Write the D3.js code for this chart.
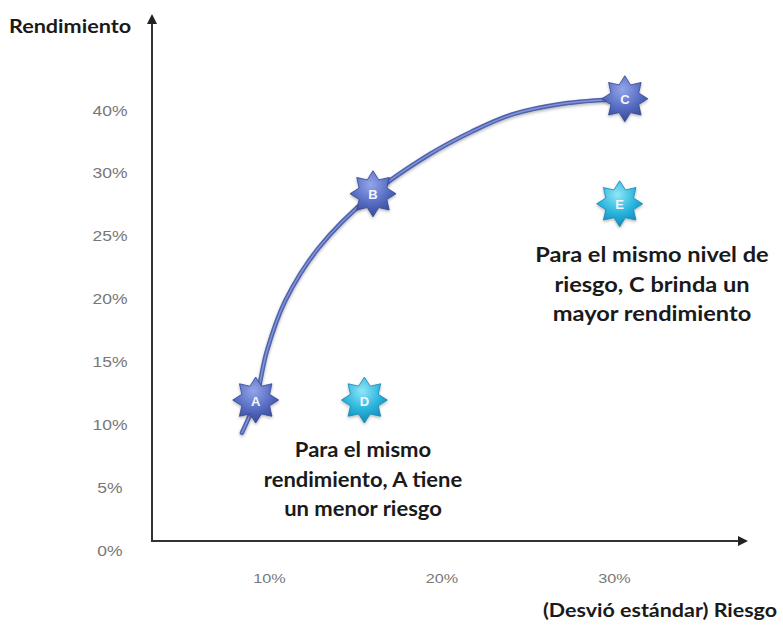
<!DOCTYPE html>
<html>
<head>
<meta charset="utf-8">
<script src="https://cdn.jsdelivr.net/npm/d3@7/dist/d3.min.js"></script>
<style>
  html, body { margin: 0; padding: 0; background: #fff; }
  svg { display: block; }
</style>
</head>
<body>
<svg id="chart" width="783" height="627"></svg>
<script>
// Y tick labels (unevenly valued, evenly spaced) and X tick labels
const yTicks = [0, 5, 10, 15, 20, 25, 30, 40];
const xTicks = [10, 20, 30];

// Efficient frontier curve (risk %, return %)
const frontierRisk   = [8.4, 9.2, 9.85, 10.9, 12.85, 16.0, 19.24, 21.74, 24.07, 26.98, 30.4];
const frontierReturn = [9.4, 12.0, 15.9, 19.85, 24.1, 28.4, 33.0, 36.7, 39.4, 41.1, 41.9];

// Portfolios
const pointLabels = ["A", "B", "C", "D", "E"];
const pointRisk   = [9.2, 16.0, 30.6, 15.5, 30.3];
const pointReturn = [12.0, 28.4, 41.9, 12.0, 27.6];
const pointGroup  = ["frontier", "frontier", "frontier", "off", "off"];

// Annotations
const noteLines1 = ["Para el mismo nivel de", "riesgo, C brinda un", "mayor rendimiento"];
const noteLines2 = ["Para el mismo", "rendimiento, A tiene", "un menor riesgo"];

const svg = d3.select("#chart");
const textFont = "Lato, 'Open Sans', sans-serif";
const tickFont = "'Liberation Sans', Arial, sans-serif";

// Scales: y is piecewise so that each tick label sits at an equal step
const yStep = 62.9;
const y = d3.scaleLinear()
  .domain(yTicks)
  .range(yTicks.map((d, i) => 551 - i * yStep));
const x = d3.scaleLinear().domain([0, 10]).range([97, 269.5]);

// Text placed with a slight horizontal widening
function wideText(sel, px, py, sx) {
  return sel.attr("transform", (d, i) => `translate(${px(d, i)},${py(d, i)}) scale(${sx},1)`);
}

const defs = svg.append("defs");
const gradDark = defs.append("radialGradient").attr("id", "gDark")
  .attr("cx", "45%").attr("cy", "30%").attr("r", "75%");
gradDark.append("stop").attr("offset", "0%").attr("stop-color", "#93a5e8");
gradDark.append("stop").attr("offset", "55%").attr("stop-color", "#566cc2");
gradDark.append("stop").attr("offset", "100%").attr("stop-color", "#33438f");
const gradCyan = defs.append("radialGradient").attr("id", "gCyan")
  .attr("cx", "45%").attr("cy", "30%").attr("r", "75%");
gradCyan.append("stop").attr("offset", "0%").attr("stop-color", "#8fe6f7");
gradCyan.append("stop").attr("offset", "55%").attr("stop-color", "#28b4dc");
gradCyan.append("stop").attr("offset", "100%").attr("stop-color", "#137fae");
const shadow = defs.append("filter").attr("id", "soft")
  .attr("x", "-30%").attr("y", "-30%").attr("width", "160%").attr("height", "160%");
shadow.append("feDropShadow").attr("dx", 0).attr("dy", 1.5).attr("stdDeviation", 1.5)
  .attr("flood-color", "#000").attr("flood-opacity", 0.3);

const arrow = defs.append("marker").attr("id", "arrow")
  .attr("viewBox", "0 0 10 10").attr("refX", 2).attr("refY", 5)
  .attr("markerWidth", 5).attr("markerHeight", 5).attr("orient", "auto")
  .attr("markerUnits", "strokeWidth");
arrow.append("path").attr("d", "M0,0 L10,5 L0,10 z").attr("fill", "#222");

// Axes (arrow lines)
const axisX = 152, axisY = 541;
svg.append("line")
  .attr("x1", axisX).attr("y1", axisY).attr("x2", axisX).attr("y2", 22)
  .attr("stroke", "#333").attr("stroke-width", 2).attr("marker-end", "url(#arrow)");
svg.append("line")
  .attr("x1", axisX - 1).attr("y1", axisY).attr("x2", 740).attr("y2", axisY)
  .attr("stroke", "#333").attr("stroke-width", 2).attr("marker-end", "url(#arrow)");

// Tick labels
wideText(svg.append("g").selectAll("text").data(yTicks).join("text"),
    () => 110, d => y(d), 1.25)
  .attr("text-anchor", "middle").attr("dominant-baseline", "central")
  .attr("font-family", tickFont).attr("font-size", 14).attr("fill", "#777")
  .text(d => d + "%");
wideText(svg.append("g").selectAll("text").data(xTicks).join("text"),
    d => x(d), () => 578, 1.2)
  .attr("text-anchor", "middle").attr("dominant-baseline", "central")
  .attr("font-family", tickFont).attr("font-size", 13.5).attr("fill", "#777")
  .text(d => d + "%");

// Axis titles
wideText(svg.append("text").datum(0), () => 9, () => 33, 1.2)
  .attr("font-family", textFont).attr("font-weight", 700).attr("font-size", 18)
  .attr("fill", "#1a1a1a").text("Rendimiento");
wideText(svg.append("text").datum(0), () => 777, () => 617, 1.13)
  .attr("text-anchor", "end")
  .attr("font-family", textFont).attr("font-weight", 700).attr("font-size", 19)
  .attr("fill", "#1a1a1a").text("(Desvió estándar) Riesgo");

// Frontier curve
const frontier = frontierRisk.map((r, i) => [r, frontierReturn[i]]);
const line = d3.line().x(d => x(d[0])).y(d => y(d[1])).curve(d3.curveCatmullRom.alpha(0.5));
svg.append("path").attr("d", line(frontier)).attr("fill", "none")
  .attr("stroke", "#5062ae").attr("stroke-width", 4.5).attr("stroke-linecap", "round")
  .attr("filter", "url(#soft)");
svg.append("path").attr("d", line(frontier)).attr("fill", "none")
  .attr("stroke", "#8494d8").attr("stroke-width", 1.5).attr("stroke-linecap", "round");

// Eight-pointed stars
function starPath(rOut, rIn, n) {
  const pts = [];
  for (let i = 0; i < 2 * n; i++) {
    const a = -Math.PI / 2 + i * Math.PI / n;
    const r = i % 2 === 0 ? rOut : rIn;
    pts.push([r * Math.cos(a), r * Math.sin(a)]);
  }
  return d3.line().curve(d3.curveLinearClosed)(pts);
}
const stars = svg.append("g").selectAll("g")
  .data(pointLabels.map((l, i) => ({ l, r: pointRisk[i], v: pointReturn[i], g: pointGroup[i] })))
  .join("g")
  .attr("transform", d => `translate(${x(d.r)},${y(d.v)})`);
stars.append("path")
  .attr("d", starPath(23, 15, 8))
  .attr("fill", d => d.g === "frontier" ? "url(#gDark)" : "url(#gCyan)")
  .attr("stroke", d => d.g === "frontier" ? "#34448f" : "#1786b3")
  .attr("stroke-width", 0.8).attr("stroke-linejoin", "round")
  .attr("filter", "url(#soft)");
stars.append("text")
  .attr("text-anchor", "middle").attr("dominant-baseline", "central").attr("y", 1)
  .attr("font-family", "'Liberation Sans', Arial, sans-serif").attr("font-weight", 700)
  .attr("font-size", 13).attr("fill", "#f4f6ff")
  .text(d => d.l);

// Annotations
function note(lines, cx, y0, sx) {
  wideText(svg.append("g").selectAll("text").data(lines).join("text"),
      () => cx, (d, i) => y0 + i * 29.5, sx)
    .attr("text-anchor", "middle")
    .attr("font-family", textFont).attr("font-weight", 700).attr("font-size", 20)
    .attr("fill", "#1a1a1a").text(d => d);
}
note(noteLines1, 652, 262, 1.18);
note(noteLines2, 363, 457, 1.1);
</script>
</body>
</html>
